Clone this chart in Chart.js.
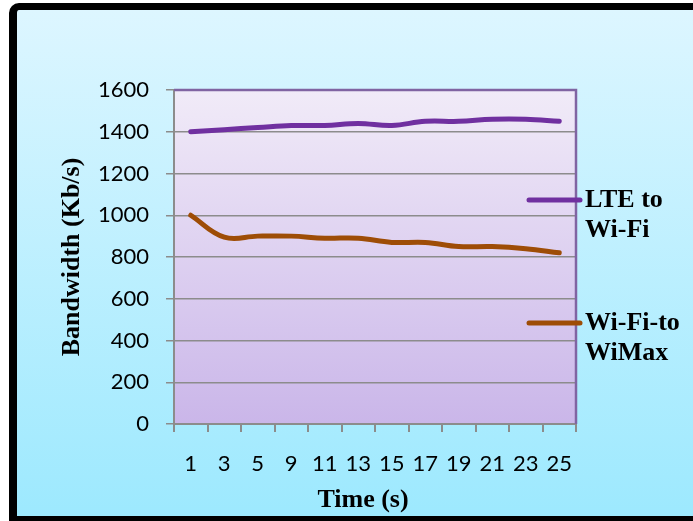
<!DOCTYPE html>
<html><head><meta charset="utf-8">
<script src="https://cdn.jsdelivr.net/npm/chart.js@4"></script>
<style>
html,body{margin:0;padding:0;background:#fff;width:693px;height:521px;overflow:hidden;}
#frame{position:absolute;left:9px;top:3px;width:700px;height:521px;box-sizing:border-box;border:8px solid #000;border-top-width:7px;border-top-left-radius:10px;background:linear-gradient(to bottom,#DDF6FF 0%,#9DE9FE 100%);}
#wrap{position:absolute;left:0;top:0;width:693px;height:521px;}
</style></head><body>
<div id="frame"></div>
<div id="wrap"><canvas id="c" width="693" height="521"></canvas></div>
<script>
const categories = ['1','3','5','9','11','13','15','17','19','21','23','25'];
const lteToWifi = [1400,1410,1420,1430,1430,1440,1430,1450,1450,1460,1460,1450];
const wifiToWimax = [1000,895,900,900,890,890,870,870,850,850,840,820];
const seriesLabels = [['LTE to','Wi-Fi'],['Wi-Fi-to','WiMax']];
const seriesColors = ['#7030A0','#9E4D06'];
const yAxisTitle = 'Bandwidth (Kb/s)';
const xAxisTitle = 'Time (s)';
const yMin = 0, yMax = 1600, yStep = 200;

const legendY = [200, 323];

const decor = {
  id:'decor',
  beforeDraw(chart){
    const {ctx, chartArea:a} = chart;
    const g = ctx.createLinearGradient(0,a.top,0,a.bottom);
    g.addColorStop(0,'#F1EBF8');
    g.addColorStop(1,'#CAB6E9');
    ctx.save();
    ctx.fillStyle = g;
    ctx.fillRect(a.left,a.top,a.right-a.left,a.bottom-a.top);
    ctx.restore();
  },
  beforeDatasetsDraw(chart){
    const {ctx, chartArea:a} = chart;
    ctx.save();
    ctx.strokeStyle = '#8064A2';
    ctx.lineWidth = 2.5;
    ctx.beginPath();
    ctx.moveTo(a.left, a.top);
    ctx.lineTo(a.right, a.top);
    ctx.lineTo(a.right, a.bottom);
    ctx.stroke();
    ctx.restore();
  },
  afterDraw(chart){
    const ctx = chart.ctx;
    ctx.save();
    chart.data.datasets.forEach((ds,i)=>{
      const y = legendY[i];
      ctx.strokeStyle = ds.borderColor;
      ctx.lineWidth = 5;
      ctx.lineCap = 'round';
      ctx.beginPath();
      ctx.moveTo(529,y);
      ctx.lineTo(580,y);
      ctx.stroke();
      ctx.fillStyle = '#000';
      ctx.font = 'bold 26px "Liberation Serif"';
      ctx.textBaseline = 'middle';
      ctx.textAlign = 'left';
      ds.label.forEach((t,k)=>ctx.fillText(t,585,y+k*30));
    });
    ctx.font = 'bold 26px "Liberation Serif"';
    ctx.textAlign = 'center';
    ctx.textBaseline = 'middle';
    ctx.fillStyle = '#000';
    ctx.fillText(xAxisTitle, 363, 500);
    ctx.restore();
  }
};

new Chart(document.getElementById('c'), {
  type:'line',
  data:{
    labels: categories,
    datasets:[
      {label: seriesLabels[0], data: lteToWifi, borderColor: seriesColors[0], backgroundColor: seriesColors[0], borderWidth:5, pointRadius:0, tension:0.4, fill:false, borderCapStyle:'round'},
      {label: seriesLabels[1], data: wifiToWimax, borderColor: seriesColors[1], backgroundColor: seriesColors[1], borderWidth:5, pointRadius:0, tension:0.4, fill:false, borderCapStyle:'round'}
    ]
  },
  options:{
    responsive:false,
    devicePixelRatio:1,
    animation:false,
    layout:{padding:{top:90,right:117,left:0,bottom:0}},
    plugins:{legend:{display:false}, tooltip:{enabled:false}},
    scales:{
      x:{
        offset:true,
        ticks:{color:'#000', font:{family:'Lato', size:22}, padding:19, maxRotation:0, autoSkip:false},
        grid:{offset:true, drawOnChartArea:false, color:'#8C8C8C', lineWidth:2, tickLength:8},
        border:{color:'#8C8C8C', width:2},
        afterFit(s){ s.height = 97; }
      },
      y:{
        min:yMin, max:yMax,
        ticks:{stepSize:yStep, color:'#000', font:{family:'Lato', size:22}, padding:17, callback:(v)=>String(v)},
        grid:{color:'#8C8C8C', lineWidth:1.5, tickLength:8},
        border:{color:'#8C8C8C', width:2},
        title:{display:true, text:yAxisTitle, color:'#000', font:{family:'Liberation Serif', size:26, weight:'bold'}, padding:{top:57, bottom:0}},
        afterFit(s){ s.width = 174; }
      }
    }
  },
  plugins:[decor]
});
</script>
</body></html>
